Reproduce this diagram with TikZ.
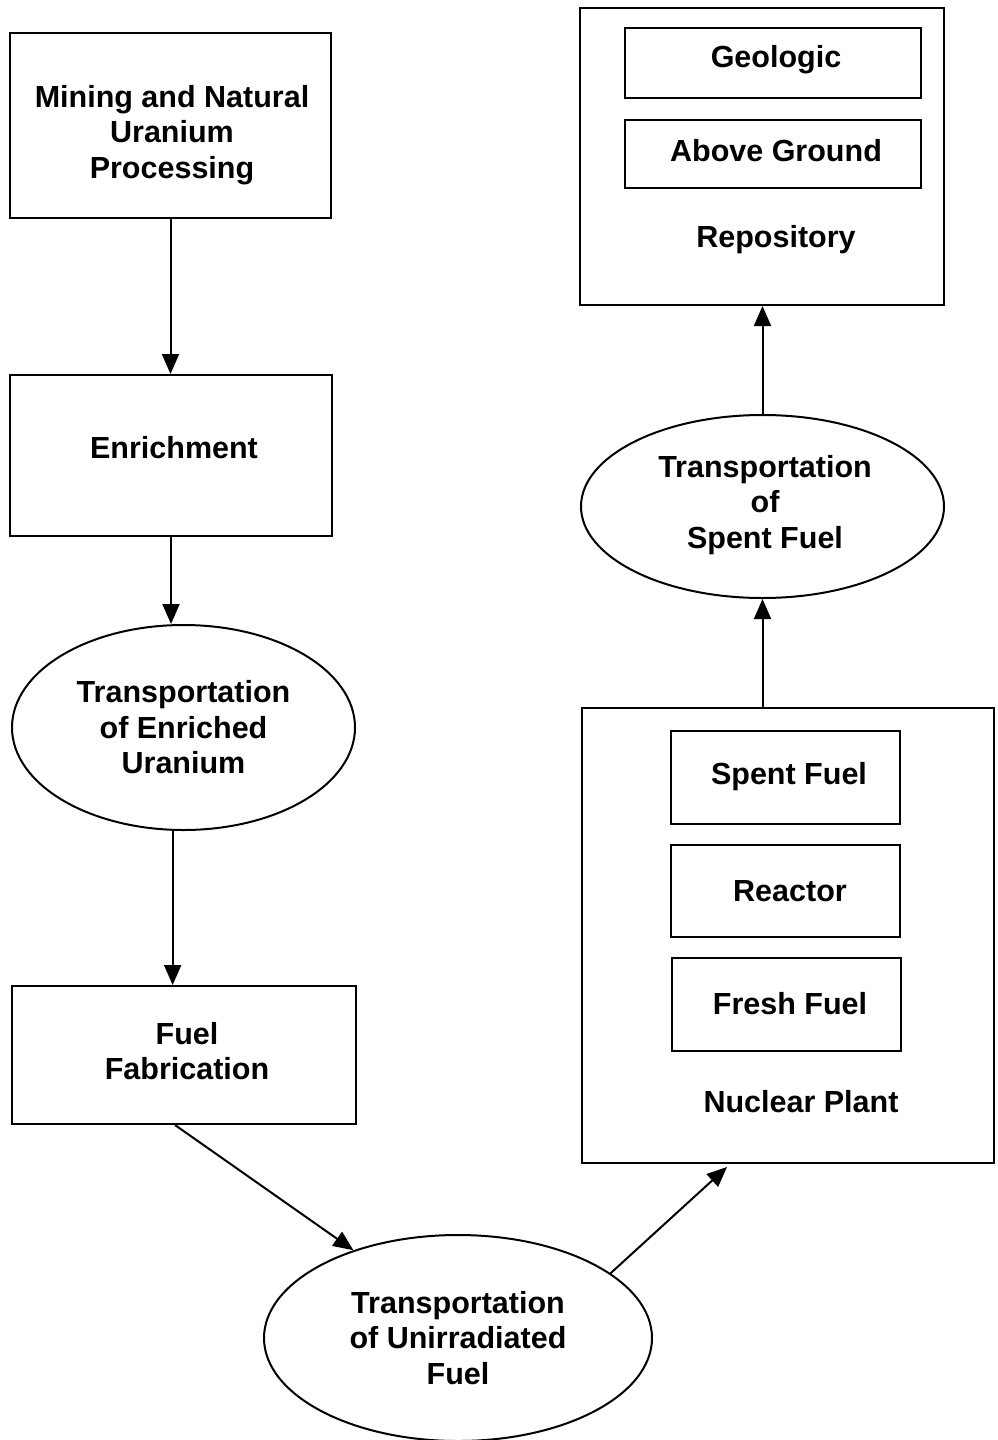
\documentclass[tikz,border=0pt]{standalone}
\usepackage{fontspec}
\setmainfont{Liberation Sans}
\usetikzlibrary{shapes.geometric,arrows.meta,calc}
\begin{document}
\begin{tikzpicture}[x=1pt,y=-1pt,
  every node/.style={font=\bfseries\fontsize{30.5}{35.5}\selectfont, align=center, inner sep=0pt},
  box/.style={draw, line width=2pt, rectangle},
  subbox/.style={draw, line width=1.8pt, rectangle},
  oval/.style={draw, line width=2pt, ellipse},
  flow/.style={line width=2pt, -{Triangle[length=20pt,width=17pt]}}]
\useasboundingbox (0,0) rectangle (998,1440);

% left column
\node[box, minimum width=321pt, minimum height=185pt] (mine) at (170.5,125.5) {};
\node at (172,135) {Mining and Natural\\Uranium\\Processing};
\node[box, minimum width=322pt, minimum height=161pt] (enrich) at (171,455.5) {};
\node at (174,448) {Enrichment};
\node[oval, minimum width=343pt, minimum height=205pt] (teu) at (183.5,727.5) {Transportation\\of Enriched\\Uranium};
\node[box, minimum width=344pt, minimum height=138pt] (fab) at (184,1055) {};
\node at (187,1051) {Fuel\\Fabrication};
\node[oval, minimum width=388pt, minimum height=206pt] (tuf) at (458,1338) {Transportation\\of Unirradiated\\Fuel};

% nuclear plant
\node[box, minimum width=412pt, minimum height=455pt] (plant) at (788,935.5) {};
\node[subbox, minimum width=229pt, minimum height=93pt] (spent) at (785.5,777.5) {};
\node at (789,777) {Spent Fuel};
\node[subbox, minimum width=229pt, minimum height=92pt] (reactor) at (785.5,891) {};
\node at (790,891) {Reactor};
\node[subbox, minimum width=229pt, minimum height=93pt] (fresh) at (786.5,1004.5) {};
\node at (790,1004) {Fresh Fuel};
\node (plantlbl) at (801,1102) {Nuclear Plant};

% transport of spent fuel
\node[oval, minimum width=363pt, minimum height=183pt] (tsf) at (762.5,506.5) {};
\node at (765,505) {Transportation\\of\\Spent Fuel};

% repository
\node[box, minimum width=364pt, minimum height=297pt] (repo) at (762,156.5) {};
\node[subbox, minimum width=296pt, minimum height=70pt] (geo) at (773,63) {};
\node at (776,60) {Geologic};
\node[subbox, minimum width=296pt, minimum height=68pt] (above) at (773,154) {};
\node at (776,151) {Above Ground};
\node (repolbl) at (776,240) {Repository};

% connectors
\draw[flow] (mine.south) -- (mine.south |- enrich.north);
\draw[flow] (enrich.south) -- (enrich.south |- teu.north);
\draw[flow] (teu.-96.5) -- (teu.-96.5 |- fab.north);
\draw[flow] ($(fab.south)+(-9,0)$) -- (tuf.140);
\draw[flow] (tuf.23) -- ($(plant.south)+(-61,3)$);
\draw[flow] (tsf.south |- plant.north) -- (tsf.south);
\draw[flow] (tsf.north) -- (tsf.north |- repo.south);
\end{tikzpicture}
\end{document}
